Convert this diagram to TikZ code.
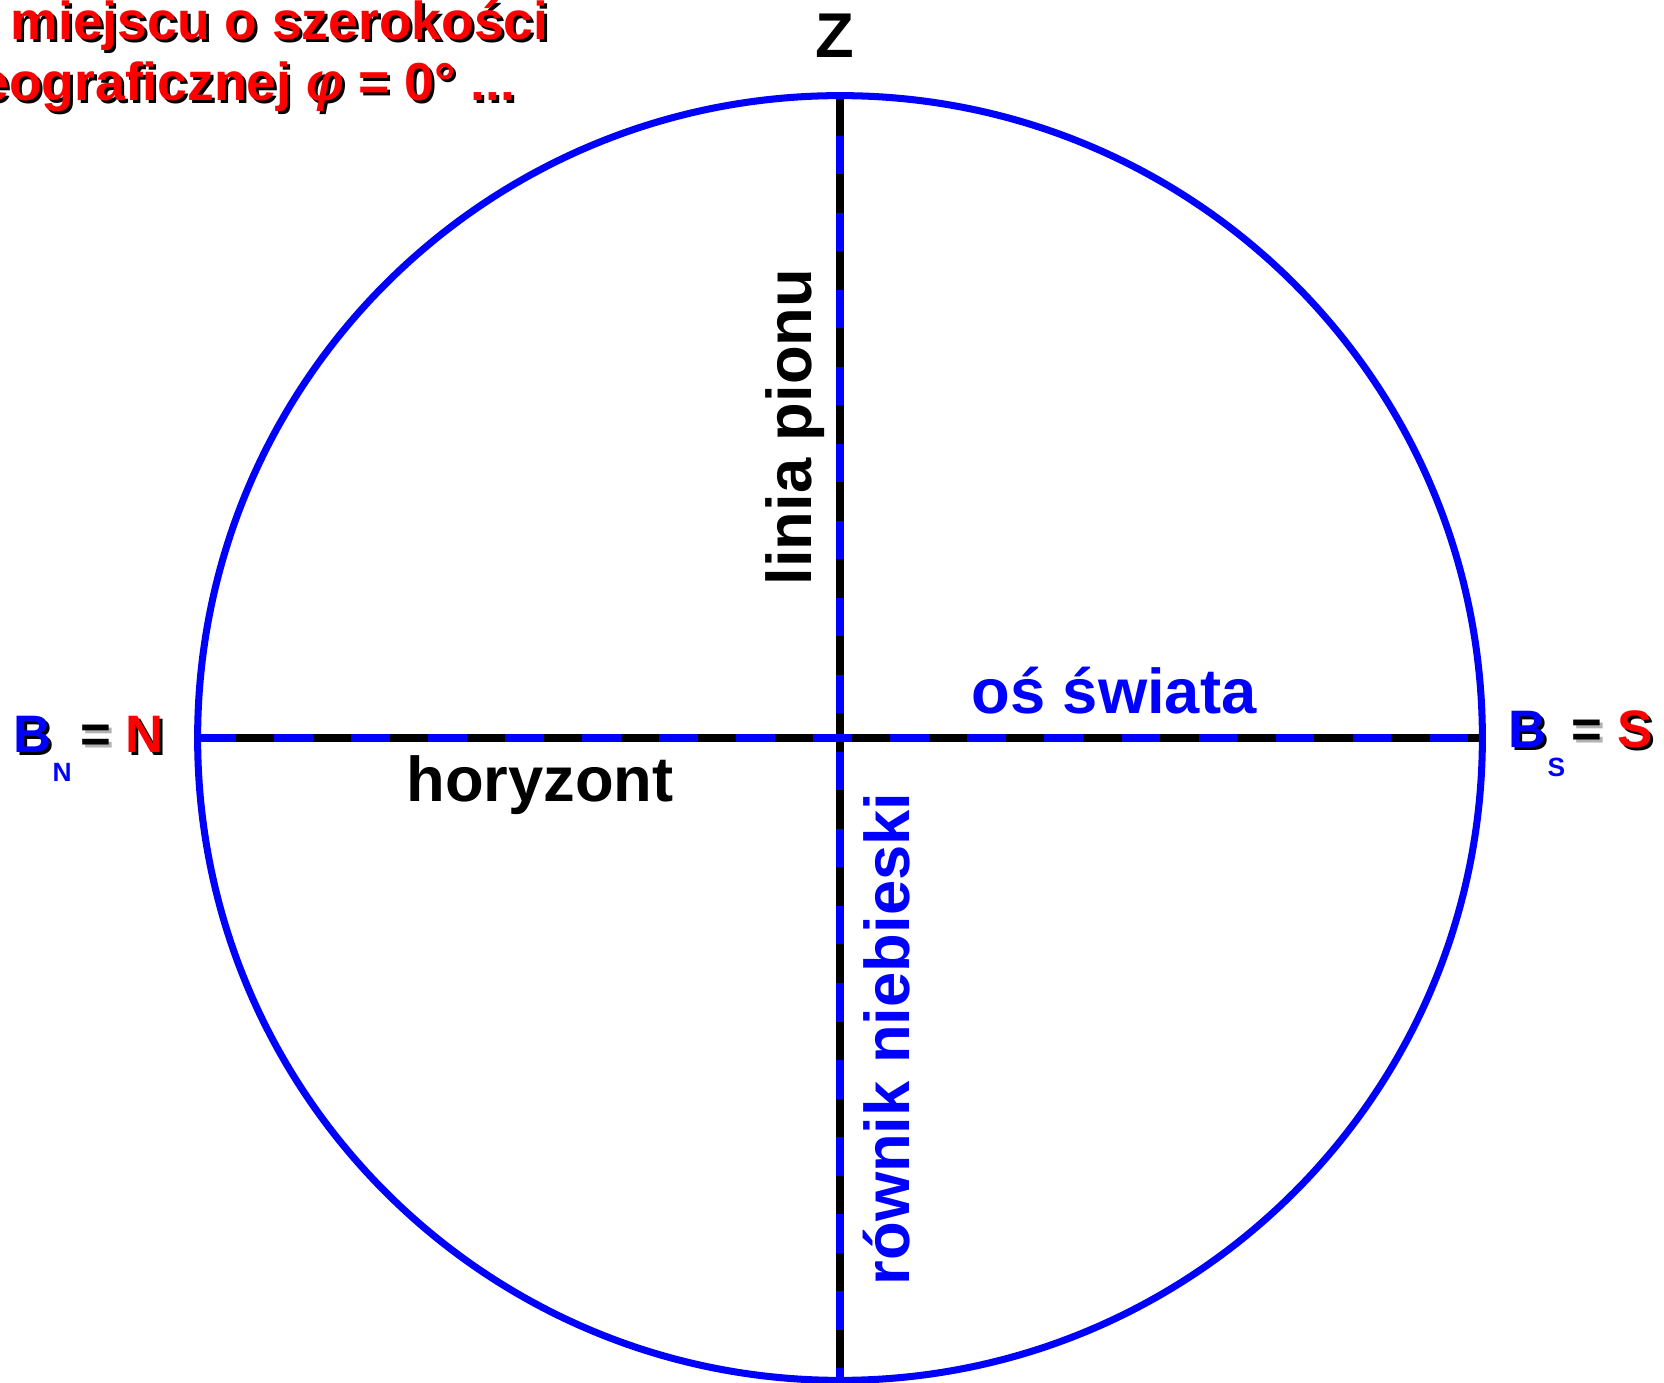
\documentclass[tikz,border=0pt]{standalone}
\usepackage{fontspec}
\setmainfont{Liberation Sans}
\usetikzlibrary{positioning}
% text with a drop shadow: {colour}{shadow colour}{text}
\newcommand{\shd}[3]{\makebox[0pt][l]{\hspace{0.03cm}\raisebox{-0.03cm}{\color{#2}#3}}{\color{#1}#3}}

\begin{document}
\begin{tikzpicture}[
  x=0.01cm,y=-0.01cm,
  every node/.style={inner sep=0pt,font=\bfseries\fontsize{18pt}{20pt}\selectfont},
  ttl/.style={font=\bfseries\fontsize{15.2pt}{17pt}\selectfont},
  pole/.style={font=\bfseries\fontsize{15pt}{17pt}\selectfont,anchor=base west},
  sub/.style={font=\bfseries\fontsize{7.5pt}{9pt}\selectfont,blue,anchor=base west},
  axisline/.style={line width=2pt},
  dsh/.style={line width=2pt,dash pattern=on 0.385cm off 0.385cm}
]
  \useasboundingbox (0,0) rectangle (1664,1383);
  \clip (0,0) rectangle (1664,1383);

  % --- sphere ---
  \coordinate (O) at (840,738);
  \coordinate (Zt) at (840,97);
  \coordinate (Nd) at (840,1380);
  \coordinate (Nh) at (197,738);
  \coordinate (Sh) at (1483,738);

  \draw[axisline,blue] (Zt) -- (Nd);
  \draw[dsh,black] (Zt) -- (Nd);
  \draw[axisline,black] (Nh) -- (Sh);
  \draw[dsh,blue] (Nh) -- (Sh);
  \draw[blue,line width=2pt] (O) circle[radius=6.42cm];

  % --- title ---
  \node[ttl,anchor=base west] (t1) at (10,40) {\shd{red}{black}{miejscu o szerokości}};
  \node[ttl,anchor=base east] (t2) at (516,101) {\shd{red}{black}{eograficznej {\itshape φ} = 0° ...}};

  % --- labels ---
  \node[anchor=base] (z) at (835,58) {Z};
  \node[anchor=base,rotate=90] (pion) at (811,427) {linia pionu};
  \node[anchor=base,rotate=90,blue] (rown) at (909,1039) {równik niebieski};
  \node[anchor=base] (hor) at (540,802) {horyzont};
  \node[anchor=base,blue] (os) at (1114,714) {oś świata};

  % --- poles ---
  \node[pole] (bn) at (13,753) {\shd{blue}{black}{B}};
  \node[sub] (bnsub) at (52,782) {N};
  \node[pole] (bneq) at (80,753) {\shd{black}{black!30}{=}};
  \node[pole] (bnn) at (125,753) {\shd{red}{black}{N}};
  \node[pole] (bs) at (1508,748) {\shd{blue}{black}{B}};
  \node[sub] (bssub) at (1547,777) {S};
  \node[pole] (bseq) at (1571,748) {\shd{black}{black!30}{=}};
  \node[pole] (bss) at (1617,748) {\shd{red}{black}{S}};
\end{tikzpicture}
\end{document}
